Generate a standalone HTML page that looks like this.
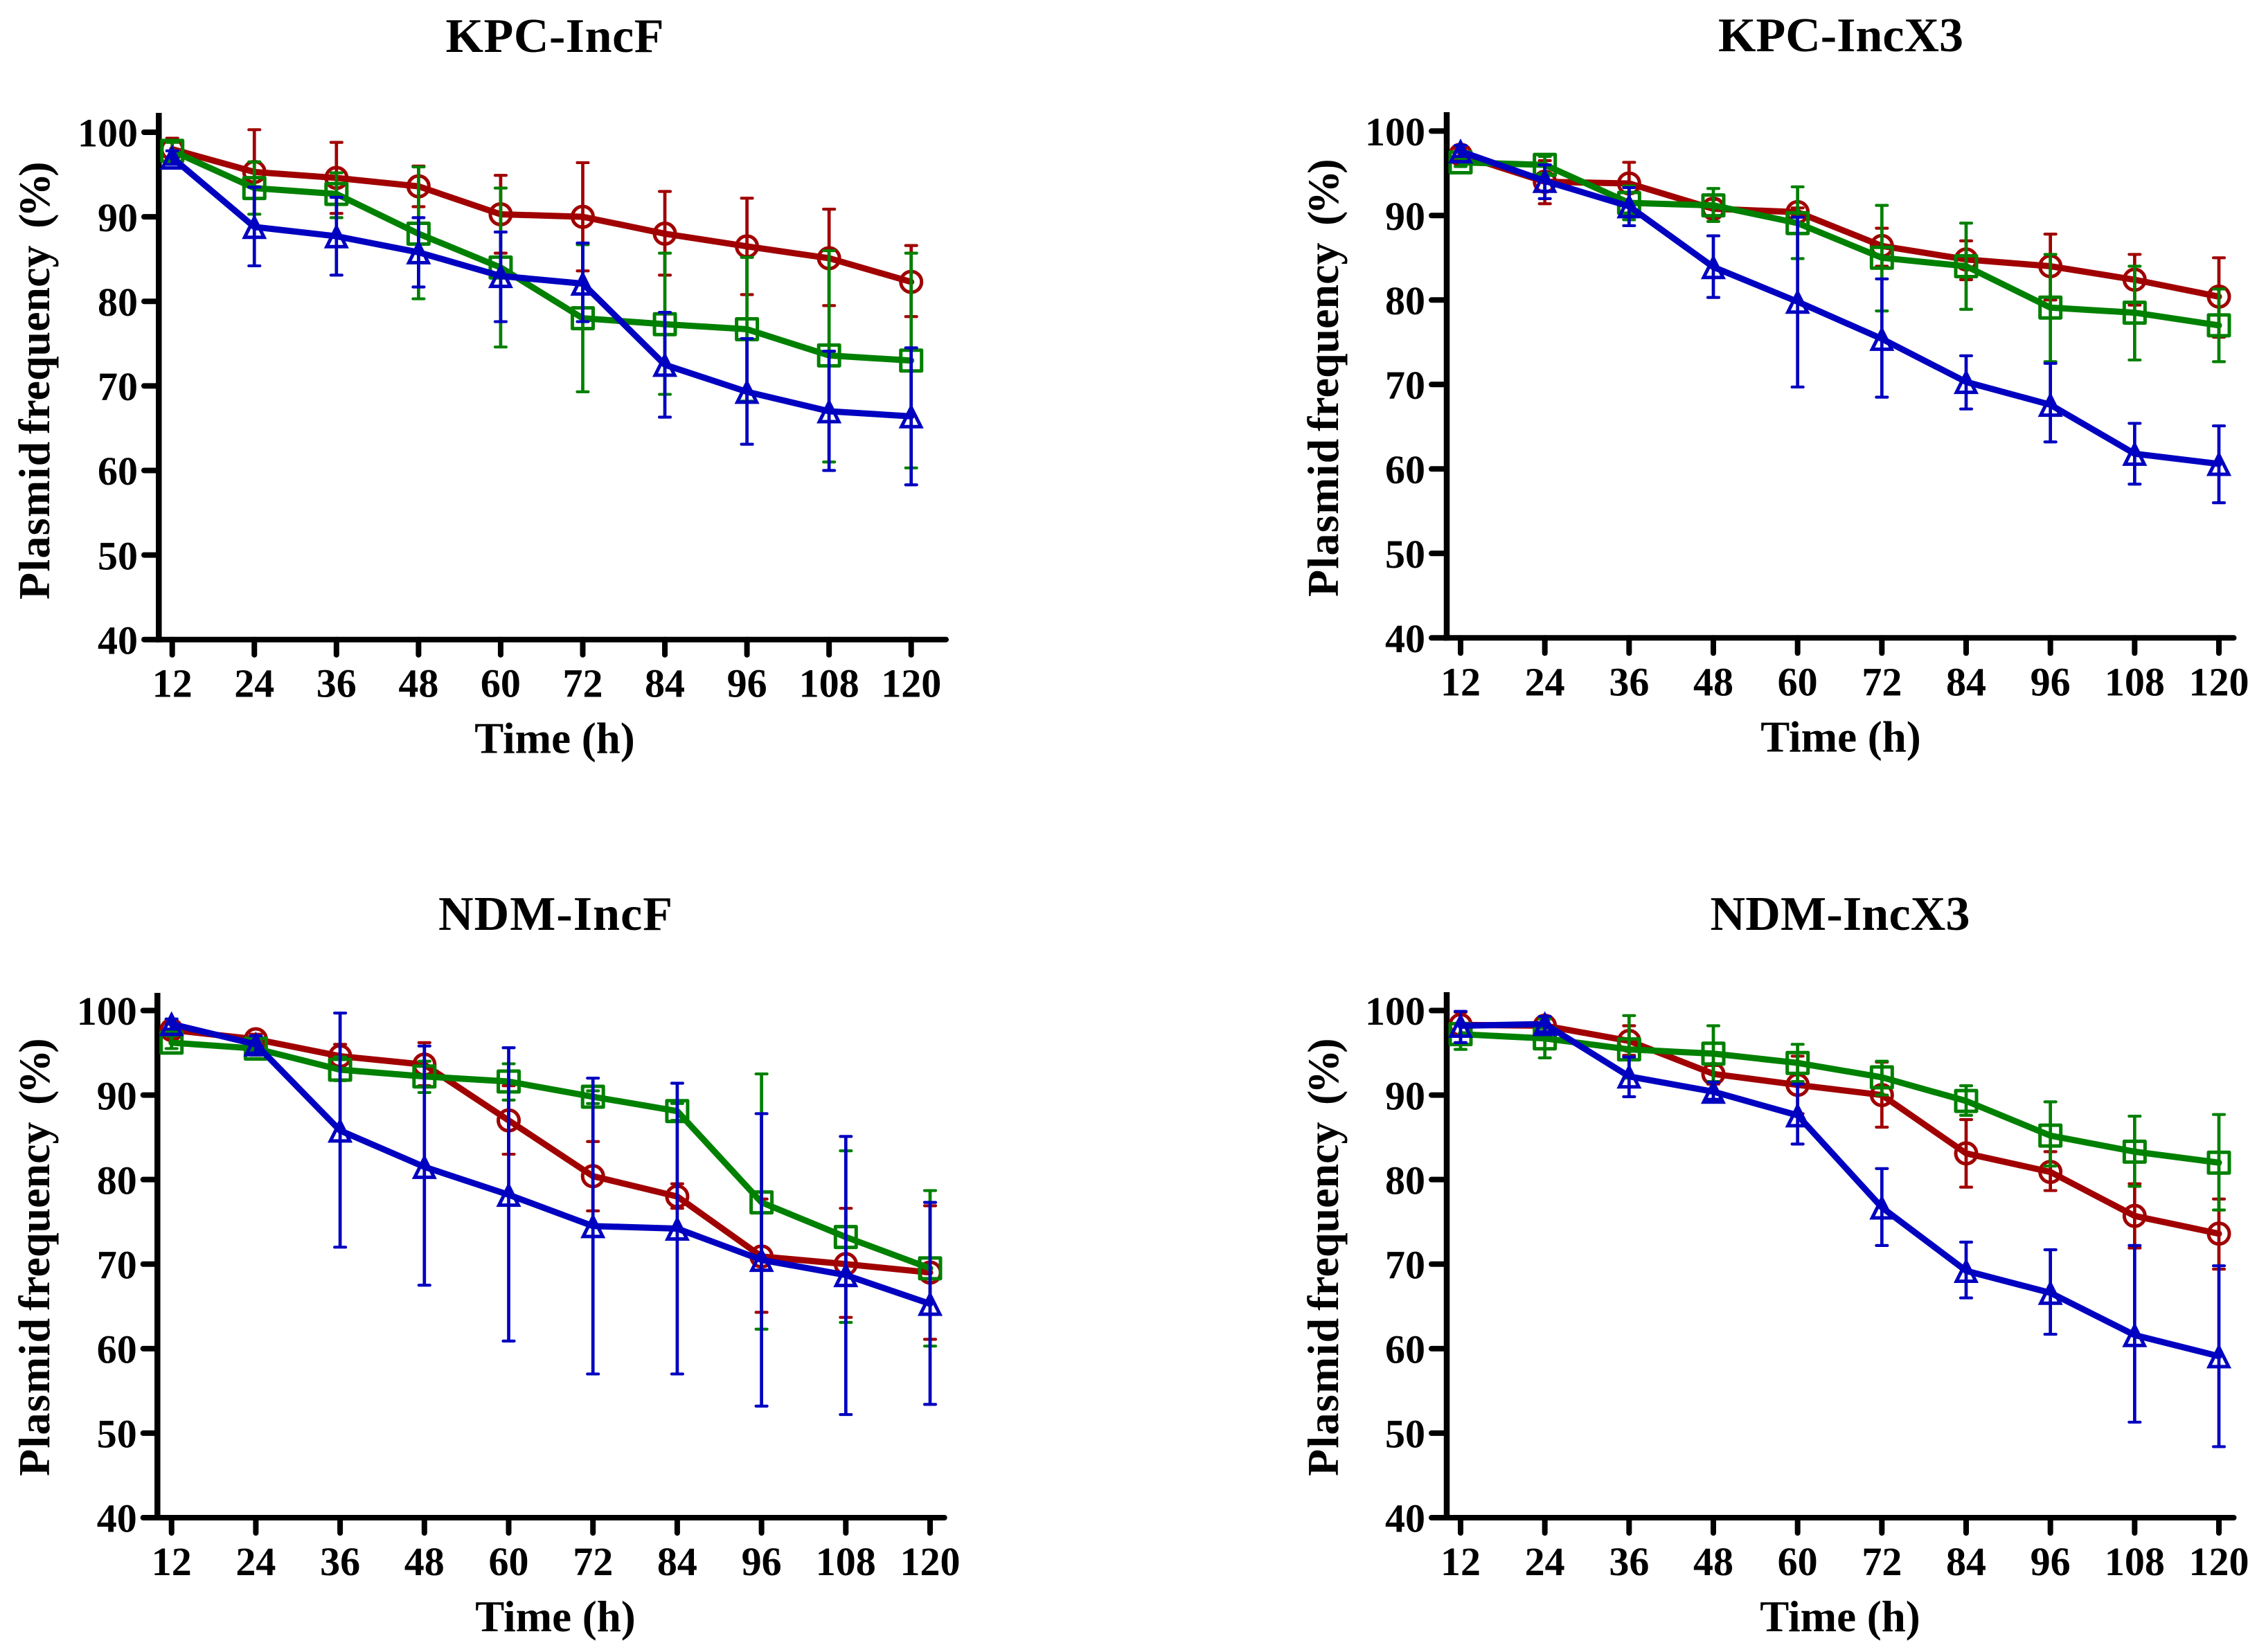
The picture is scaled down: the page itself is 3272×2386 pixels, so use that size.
<!DOCTYPE html>
<html lang="en">
<head>
<meta charset="utf-8">
<title>Plasmid frequency over time</title>
<style>
html,body{margin:0;padding:0;background:#fff;}
svg{display:block;}
text{font-family:"Liberation Serif",serif;font-weight:bold;fill:#000;}
</style>
</head>
<body>
<svg id="figure" xmlns="http://www.w3.org/2000/svg" width="3272" height="2386" viewBox="0 0 3272 2386">
<rect x="0" y="0" width="3272" height="2386" fill="#ffffff"/>
</svg>
<script>
// Shared categories and tick labels
const hours = [12, 24, 36, 48, 60, 72, 84, 96, 108, 120];
const yTickLabels = [40, 50, 60, 70, 80, 90, 100];

// KPC-IncF
const kpcFRedMean  = [98.0, 95.3, 94.6, 93.6, 90.3, 90.0, 88.0, 86.5, 85.1, 82.3];
const kpcFRedUp    = [99.3, 100.3, 98.8, 96.0, 94.9, 96.4, 93.0, 92.2, 90.9, 86.6];
const kpcFRedLow   = [96.7, 90.3, 90.4, 91.2, 85.7, 83.6, 83.1, 80.8, 79.5, 78.2];
const kpcFGreenMean= [97.8, 93.4, 92.7, 88.0, 84.0, 78.0, 77.3, 76.7, 73.6, 73.0];
const kpcFGreenUp  = [98.8, 96.5, 95.2, 95.9, 93.4, 86.7, 85.7, 85.2, 86.0, 85.7];
const kpcFGreenLow = [96.8, 90.3, 89.9, 80.3, 74.6, 69.3, 69.0, 68.2, 61.0, 60.3];
const kpcFBlueMean = [97.0, 88.8, 87.7, 85.8, 83.0, 82.1, 72.5, 69.3, 67.0, 66.4];
const kpcFBlueUp   = [97.8, 93.5, 92.3, 89.9, 88.2, 86.9, 78.7, 75.6, 74.1, 74.5];
const kpcFBlueLow  = [96.2, 84.2, 83.1, 81.7, 77.6, 77.6, 66.3, 63.1, 60.0, 58.3];

// KPC-IncX3
const kpcXRedMean  = [97.2, 94.0, 93.8, 90.8, 90.4, 86.4, 84.8, 84.0, 82.4, 80.4];
const kpcXRedUp    = [97.9, 96.5, 96.3, 91.9, 90.9, 88.5, 87.0, 87.8, 85.4, 85.0];
const kpcXRedLow   = [96.5, 91.4, 91.5, 89.7, 89.9, 84.0, 82.4, 80.0, 79.4, 75.6];
const kpcXGreenMean= [96.3, 96.0, 91.5, 91.2, 89.1, 85.0, 84.0, 79.1, 78.5, 77.0];
const kpcXGreenUp  = [96.8, 97.0, 93.5, 93.2, 93.4, 91.2, 89.1, 85.4, 84.0, 81.3];
const kpcXGreenLow = [95.8, 95.0, 89.5, 89.3, 84.9, 78.7, 78.9, 72.7, 72.9, 72.7];
const kpcXBlueMean = [97.6, 94.1, 91.1, 83.9, 79.8, 75.4, 70.3, 67.6, 61.8, 60.6];
const kpcXBlueUp   = [98.3, 96.0, 93.3, 87.6, 89.8, 82.5, 73.4, 72.5, 65.4, 65.1];
const kpcXBlueLow  = [97.0, 92.0, 88.8, 80.3, 69.7, 68.5, 67.1, 63.2, 58.2, 56.0];

// NDM-IncF
const ndmFRedMean  = [97.7, 96.6, 94.6, 93.6, 87.0, 80.4, 78.0, 70.9, 70.0, 69.0];
const ndmFRedUp    = [98.5, 97.2, 96.0, 96.2, 91.1, 84.5, 79.5, 77.7, 76.6, 76.9];
const ndmFRedLow   = [96.9, 96.0, 93.0, 91.1, 83.0, 76.3, 76.6, 64.3, 63.7, 61.1];
const ndmFGreenMean= [96.2, 95.5, 93.0, 92.2, 91.6, 89.8, 88.1, 77.3, 73.2, 69.5];
const ndmFGreenUp  = [97.0, 96.3, 94.5, 94.0, 93.7, 90.5, 89.0, 92.5, 83.4, 78.7];
const ndmFGreenLow = [95.5, 94.7, 91.7, 90.3, 89.4, 89.0, 87.0, 62.3, 63.1, 60.3];
const ndmFBlueMean = [98.4, 96.0, 85.8, 81.5, 78.2, 74.5, 74.2, 70.5, 68.7, 65.3];
const ndmFBlueUp   = [99.0, 97.0, 99.7, 95.8, 95.6, 92.0, 91.4, 87.8, 85.1, 77.3];
const ndmFBlueLow  = [97.8, 95.0, 72.0, 67.5, 60.9, 57.0, 57.0, 53.2, 52.2, 53.4];

// NDM-IncX3
const ndmXRedMean  = [98.3, 98.2, 96.4, 92.5, 91.2, 90.0, 83.1, 80.9, 75.7, 73.6];
const ndmXRedUp    = [99.8, 99.0, 98.2, 93.5, 94.6, 93.9, 87.1, 83.3, 79.5, 77.7];
const ndmXRedLow   = [96.2, 97.5, 94.7, 91.3, 87.8, 86.2, 79.1, 78.7, 71.9, 69.4];
const ndmXGreenMean= [97.2, 96.7, 95.4, 94.9, 93.8, 92.1, 89.3, 85.2, 83.3, 82.0];
const ndmXGreenUp  = [98.5, 99.0, 99.4, 98.2, 96.0, 94.0, 91.1, 89.2, 87.5, 87.7];
const ndmXGreenLow = [95.4, 94.4, 92.0, 91.6, 91.6, 90.0, 87.6, 81.6, 79.2, 76.4];
const ndmXBlueMean = [98.2, 98.4, 92.2, 90.4, 87.6, 76.7, 69.2, 66.6, 61.6, 59.1];
const ndmXBlueUp   = [99.9, 99.3, 94.5, 91.5, 91.3, 81.3, 72.6, 71.7, 72.2, 69.8];
const ndmXBlueLow  = [96.2, 97.5, 89.8, 89.5, 84.2, 72.2, 66.0, 61.7, 51.3, 48.4];

const RED = '#A00000';
const GREEN = '#008000';
const BLUE = '#0000C0';
const NS = 'http://www.w3.org/2000/svg';
const root = document.getElementById('figure');

function svgEl(tag, parent, attrs) {
  const el = document.createElementNS(NS, tag);
  for (const k in attrs) el.setAttribute(k, attrs[k]);
  parent.appendChild(el);
  return el;
}

function drawSeries(parent, xScale, yScale, color, shape, mean, up, low) {
  const group = svgEl('g', parent, {});
  
  

  mean.forEach((m, i) => {
    const x = xScale(hours[i]);
    const stem = svgEl('line', group, {x1: x, x2: x, y1: yScale(up[i]), y2: yScale(low[i]), stroke: color, 'stroke-width': 4.7});
    
    
    const capTop = svgEl('line', group, {x1: x - 8, x2: x + 8, y1: yScale(up[i]), y2: yScale(up[i]), stroke: color, 'stroke-width': 4.2, 'stroke-linecap': 'round'});
    
    
    const capLow = svgEl('line', group, {x1: x - 8, x2: x + 8, y1: yScale(low[i]), y2: yScale(low[i]), stroke: color, 'stroke-width': 4.2, 'stroke-linecap': 'round'});
    
    
  });

  const pts = mean.map((m, i) => xScale(hours[i]) + ',' + yScale(m)).join(' ');
  const line = svgEl('polyline', group, {points: pts, fill: 'none', stroke: color, 'stroke-width': 9, 'stroke-linejoin': 'round', 'stroke-linecap': 'round'});
  
  

  mean.forEach((m, i) => {
    const x = xScale(hours[i]);
    const y = yScale(m);
    let marker;
    if (shape === 'circle') {
      marker = svgEl('circle', group, {cx: x, cy: y, r: 15, fill: 'none', stroke: color, 'stroke-width': 5});
    } else if (shape === 'square') {
      marker = svgEl('rect', group, {x: x - 15, y: y - 15, width: 30, height: 30, fill: 'none', stroke: color, 'stroke-width': 5, 'stroke-linejoin': 'round'});
    } else {
      marker = svgEl('polygon', group, {points: x + ',' + (y - 13) + ' ' + (x + 14) + ',' + (y + 15) + ' ' + (x - 14) + ',' + (y + 15), fill: 'none', stroke: color, 'stroke-width': 5, 'stroke-miterlimit': 6});
    }
    
    
  });
}

function drawPanel(cfg, series) {
  const panel = svgEl('g', root, {});
  
  

  const xScale = h => cfg.x12 + (h - hours[0]) / (hours[hours.length - 1] - hours[0]) * (cfg.x120 - cfg.x12);
  const yScale = v => cfg.y40 + (v - 40) / (100 - 40) * (cfg.y100 - cfg.y40);

  const title = svgEl('text', panel, {x: cfg.titleX, y: cfg.titleY, 'text-anchor': 'middle', 'font-size': 70, textLength: cfg.titleLen, lengthAdjust: 'spacing'});
  title.textContent = cfg.title;
  
  

  const yAxis = svgEl('line', panel, {x1: cfg.axisX, x2: cfg.axisX, y1: cfg.axisTop, y2: cfg.y40 + 4, stroke: '#000', 'stroke-width': 8.5, 'stroke-linecap': 'butt'});
  
  

  const xAxis = svgEl('line', panel, {x1: cfg.axisX - 4, x2: cfg.axisRight - 4, y1: cfg.y40, y2: cfg.y40, stroke: '#000', 'stroke-width': 8, 'stroke-linecap': 'round'});
  
  

  yTickLabels.forEach(v => {
    const y = yScale(v);
    const tick = svgEl('line', panel, {x1: cfg.tickLeft + 4, x2: cfg.axisX, y1: y, y2: y, stroke: '#000', 'stroke-width': 8, 'stroke-linecap': 'round'});
    
    
    const lbl = svgEl('text', panel, {x: cfg.tickLeft - 5, y: y + 20.7, 'text-anchor': 'end', 'font-size': 58});
    lbl.textContent = v;
    
    
  });

  hours.forEach(h => {
    const x = xScale(h);
    const tick = svgEl('line', panel, {x1: x, x2: x, y1: cfg.y40, y2: cfg.y40 + 22, stroke: '#000', 'stroke-width': 8, 'stroke-linecap': 'round'});
    
    
    const lbl = svgEl('text', panel, {x: x, y: cfg.y40 + 83, 'text-anchor': 'middle', 'font-size': 58});
    lbl.textContent = h;
    
    
  });

  const yTitle = svgEl('text', panel, {x: 0, y: 0, 'font-size': 64, transform: 'translate(' + cfg.yTitleX + ' ' + cfg.yTitleBottom + ') rotate(-90)'});
  
  
  const yWord1 = svgEl('tspan', yTitle, {x: 0, 'letter-spacing': 1.3});
  yWord1.textContent = 'Plasmid ';
  const yWord2 = svgEl('tspan', yTitle, {x: 239});
  yWord2.textContent = 'frequency ';
  const yWord3 = svgEl('tspan', yTitle, {x: 536, 'letter-spacing': -5});
  yWord3.textContent = '(%)';

  const xTitle = svgEl('text', panel, {x: cfg.titleX, y: cfg.y40 + 164, 'text-anchor': 'middle', 'font-size': 63});
  xTitle.textContent = 'Time (h)';
  
  

  drawSeries(panel, xScale, yScale, RED, 'circle', series[0], series[1], series[2]);
  drawSeries(panel, xScale, yScale, GREEN, 'square', series[3], series[4], series[5]);
  drawSeries(panel, xScale, yScale, BLUE, 'triangle', series[6], series[7], series[8]);
}

drawPanel({title: 'KPC-IncF', titleX: 801, titleY: 75, titleLen: 315, x12: 248.7, x120: 1315.7, y40: 923.7, y100: 191, axisX: 229.3, axisRight: 1370, axisTop: 163, tickLeft: 204, yTitleX: 71, yTitleBottom: 866},
  [kpcFRedMean, kpcFRedUp, kpcFRedLow, kpcFGreenMean, kpcFGreenUp, kpcFGreenLow, kpcFBlueMean, kpcFBlueUp, kpcFBlueLow]);

drawPanel({title: 'KPC-IncX3', titleX: 2658, titleY: 74, titleLen: 354, x12: 2109, x120: 3204, y40: 921.3, y100: 189.3, axisX: 2089, axisRight: 3229.5, axisTop: 162, tickLeft: 2063, yTitleX: 1932, yTitleBottom: 862},
  [kpcXRedMean, kpcXRedUp, kpcXRedLow, kpcXGreenMean, kpcXGreenUp, kpcXGreenLow, kpcXBlueMean, kpcXBlueUp, kpcXBlueLow]);

drawPanel({title: 'NDM-IncF', titleX: 802, titleY: 1343, titleLen: 338, x12: 247.7, x120: 1343, y40: 2192, y100: 1459.5, axisX: 227.3, axisRight: 1367.7, axisTop: 1434, tickLeft: 202.7, yTitleX: 71, yTitleBottom: 2132},
  [ndmFRedMean, ndmFRedUp, ndmFRedLow, ndmFGreenMean, ndmFGreenUp, ndmFGreenLow, ndmFBlueMean, ndmFBlueUp, ndmFBlueLow]);

drawPanel({title: 'NDM-IncX3', titleX: 2657, titleY: 1343, titleLen: 375, x12: 2109, x120: 3204, y40: 2192, y100: 1459.5, axisX: 2089, axisRight: 3229.5, axisTop: 1433, tickLeft: 2063, yTitleX: 1932, yTitleBottom: 2132},
  [ndmXRedMean, ndmXRedUp, ndmXRedLow, ndmXGreenMean, ndmXGreenUp, ndmXGreenLow, ndmXBlueMean, ndmXBlueUp, ndmXBlueLow]);
</script>
</body>
</html>
